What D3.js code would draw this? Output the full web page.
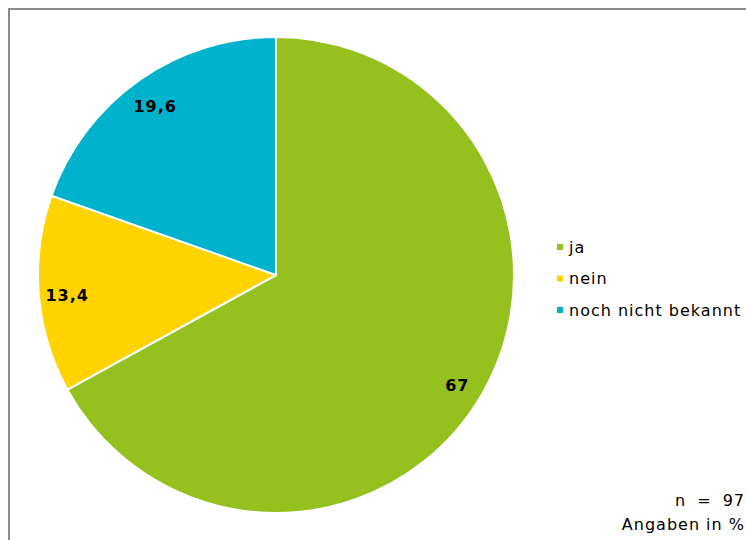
<!DOCTYPE html>
<html>
<head>
<meta charset="utf-8">
<script src="https://cdn.jsdelivr.net/npm/d3@7"></script>
<style>
  html, body { margin: 0; padding: 0; background: #fff; }
  svg { display: block; font-family: Verdana, "DejaVu Sans", sans-serif; }
</style>
</head>
<body>
<svg id="chart" width="746" height="540"></svg>
<script>
// Antworten und Anteile (in %)
const categories = ["ja", "nein", "noch nicht bekannt"];
const values = [67, 13.4, 19.6];
const valueLabels = ["67", "13,4", "19,6"];
const colors = ["#95C11F", "#FFD300", "#00B2CC"];
const notes = ["n = 97", "Angaben in %"];

const svg = d3.select("#chart");
const W = 746, H = 540;

// Rahmen
svg.append("rect")
  .attr("x", 9).attr("y", 9)
  .attr("width", W + 10).attr("height", H + 10)
  .attr("fill", "none")
  .attr("stroke", "#8c8c8c")
  .attr("stroke-width", 2);

const cx = 276, cy = 275, R = 238;

const pie = d3.pie().sort(null).value(d => d.v);
const data = categories.map((c, i) => ({ c, v: values[i], label: valueLabels[i], color: colors[i] }));
const arcs = pie(data);

const arc = d3.arc().innerRadius(0).outerRadius(R);
const labelArc = d3.arc().innerRadius(210).outerRadius(210);

const g = svg.append("g").attr("transform", `translate(${cx},${cy})`);

g.selectAll("path.slice")
  .data(arcs)
  .join("path")
  .attr("class", "slice")
  .attr("d", arc)
  .attr("fill", d => d.data.color)
  .attr("stroke", "#fff")
  .attr("stroke-width", 2)
  .attr("stroke-linejoin", "round");

g.selectAll("text.val")
  .data(arcs)
  .join("text")
  .attr("class", "val")
  .attr("transform", d => {
    const [x, y] = labelArc.centroid(d);
    return `translate(${x + 0.5},${y + 3})`;
  })
  .attr("text-anchor", "middle")
  .attr("dy", "0.35em")
  .attr("font-size", 16)
  .attr("letter-spacing", 1)
  .attr("font-weight", "bold")
  .attr("fill", "#000")
  .text(d => d.data.label);

// Legende
const legend = svg.append("g").attr("transform", "translate(557,247)");
const rowStep = 31.5;
const items = legend.selectAll("g.item")
  .data(data)
  .join("g")
  .attr("class", "item")
  .attr("transform", (d, i) => `translate(0,${i * rowStep})`);
items.append("rect")
  .attr("x", 0).attr("y", -3)
  .attr("width", 6).attr("height", 6)
  .attr("fill", d => d.color);
items.append("text")
  .attr("x", 12)
  .attr("dy", "0.35em")
  .attr("font-size", 16)
  .attr("letter-spacing", 1)
  .attr("fill", "#000")
  .text(d => d.c);

// Anmerkungen
svg.selectAll("text.note")
  .data(notes)
  .join("text")
  .attr("class", "note")
  .attr("x", 745)
  .attr("y", (d, i) => 506 + i * 23.5)
  .attr("text-anchor", "end")
  .attr("font-size", 16)
  .attr("letter-spacing", 1)
  .attr("word-spacing", (d, i) => i === 0 ? 5 : 0)
  .attr("fill", "#000")
  .text(d => d);
</script>
</body>
</html>
